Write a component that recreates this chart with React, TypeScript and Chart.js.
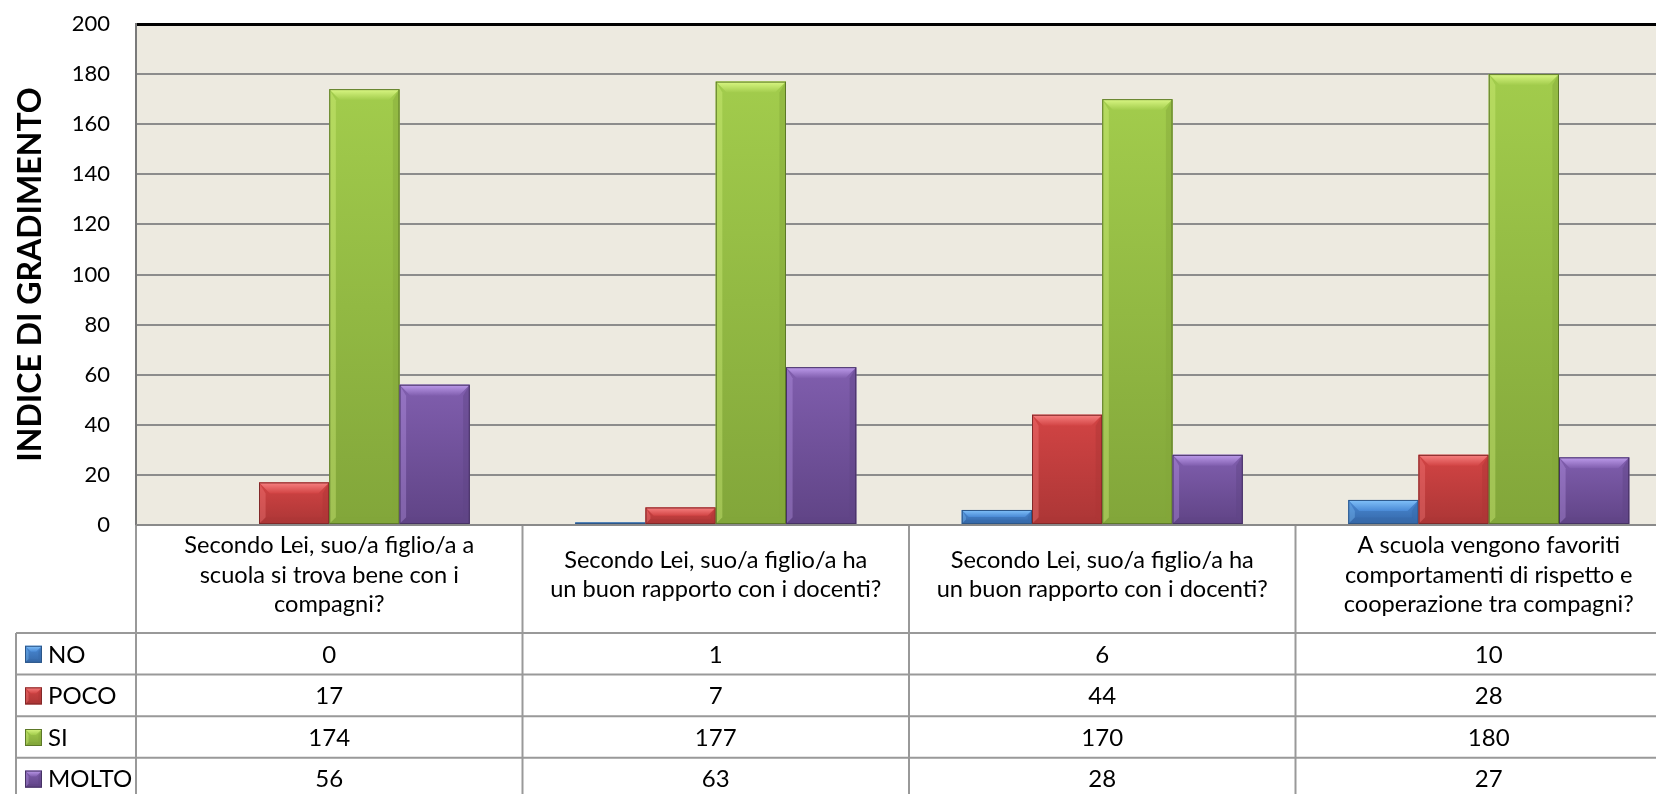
import React, { useEffect, useRef } from "react";
import { Chart, registerables } from "chart.js";

Chart.register(...registerables);

const categories: string[][] = [
  ["Secondo Lei, suo/a figlio/a a", "scuola si trova bene con i", "compagni?"],
  ["Secondo Lei, suo/a figlio/a ha", "un buon rapporto con i docenti?"],
  ["Secondo Lei, suo/a figlio/a ha", "un buon rapporto con i docenti?"],
  ["A scuola vengono favoriti", "comportamenti di rispetto e", "cooperazione tra compagni?"],
];

const seriesNames = ["NO", "POCO", "SI", "MOLTO"];
const noValues = [0, 1, 6, 10];
const pocoValues = [17, 7, 44, 28];
const siValues = [174, 177, 170, 180];
const moltoValues = [56, 63, 28, 27];

const yTicks = [0, 20, 40, 60, 80, 100, 120, 140, 160, 180, 200];

const palette = [
  { base: "#4A8AD6", light: "#82C2FA", dark: "#3568A8", border: "#2C5688" },
  { base: "#D24444", light: "#F88282", dark: "#AC3636", border: "#822828" },
  { base: "#A2CC4C", light: "#DAF784", dark: "#82A63A", border: "#5C7828" },
  { base: "#805EAE", light: "#BE9CEC", dark: "#604486", border: "#463264" },
];

const FONT = "Lato, 'Open Sans', sans-serif";
const CANVAS_W = 1700;
const CANVAS_H = 812;

const bgPlugin = {
  id: "plotBg",
  beforeDraw(chart: any) {
    const { ctx, chartArea } = chart;
    ctx.save();
    ctx.fillStyle = "#EDEAE0";
    ctx.fillRect(chartArea.left, chartArea.top, chartArea.right - chartArea.left, chartArea.bottom - chartArea.top);
    ctx.restore();
  },
};

function drawBevelRect(ctx: CanvasRenderingContext2D, left: number, top: number, right: number, bottom: number, c: any, b: number) {
  const w = right - left;
  const h = bottom - top;
  if (w <= 0 || h <= 0) return;
  const g = ctx.createLinearGradient(0, top, 0, bottom);
  g.addColorStop(0, c.base);
  g.addColorStop(1, c.dark);
  ctx.fillStyle = g;
  ctx.fillRect(left, top, w, h);
  const bb = Math.min(b, h / 2, w / 2);
  // top bevel
  ctx.beginPath();
  ctx.moveTo(left, top);
  ctx.lineTo(right, top);
  ctx.lineTo(right - bb, top + bb);
  ctx.lineTo(left + bb, top + bb);
  ctx.closePath();
  const tg = ctx.createLinearGradient(0, top, 0, top + bb);
  tg.addColorStop(0, c.light);
  tg.addColorStop(1, c.base);
  ctx.fillStyle = tg;
  ctx.fill();
  // left bevel
  ctx.beginPath();
  ctx.moveTo(left, top);
  ctx.lineTo(left + bb * 0.6, top + bb);
  ctx.lineTo(left + bb * 0.6, bottom - bb * 0.6);
  ctx.lineTo(left, bottom);
  ctx.closePath();
  ctx.globalAlpha = 0.35;
  ctx.fillStyle = c.light;
  ctx.fill();
  // right bevel
  ctx.beginPath();
  ctx.moveTo(right, top);
  ctx.lineTo(right - bb * 0.6, top + bb);
  ctx.lineTo(right - bb * 0.6, bottom - bb * 0.6);
  ctx.lineTo(right, bottom);
  ctx.closePath();
  ctx.globalAlpha = 0.45;
  ctx.fillStyle = c.dark;
  ctx.fill();
  // bottom bevel
  ctx.beginPath();
  ctx.moveTo(left, bottom);
  ctx.lineTo(left + bb * 0.6, bottom - bb * 0.6);
  ctx.lineTo(right - bb * 0.6, bottom - bb * 0.6);
  ctx.lineTo(right, bottom);
  ctx.closePath();
  ctx.globalAlpha = 0.5;
  ctx.fillStyle = c.dark;
  ctx.fill();
  ctx.globalAlpha = 1;
  ctx.strokeStyle = c.border;
  ctx.lineWidth = 1;
  ctx.strokeRect(left + 0.5, top + 0.5, w - 1, h - 1);
}

const bevelPlugin = {
  id: "bevel",
  afterDatasetsDraw(chart: any) {
    const { ctx } = chart;
    ctx.save();
    chart.data.datasets.forEach((ds: any, di: number) => {
      const meta = chart.getDatasetMeta(di);
      meta.data.forEach((el: any) => {
        const left = el.x - el.width / 2;
        const right = el.x + el.width / 2;
        const top = Math.min(el.y, el.base);
        const bottom = Math.max(el.y, el.base);
        if (bottom - top < 0.5) return;
        drawBevelRect(ctx, left, top, right, bottom, palette[di], 11);
      });
    });
    ctx.restore();
  },
};

const tablePlugin = {
  id: "dataTable",
  afterDraw(chart: any) {
    const { ctx, chartArea } = chart;
    const x = chart.scales.x;
    const n = chart.data.labels.length;
    const step = n > 1 ? x.getPixelForValue(1) - x.getPixelForValue(0) : chartArea.right - chartArea.left;
    const top = chartArea.bottom;
    const headerBottom = top + 108;
    const rowH = 41.6;
    const legendLeft = 16;
    const tableBottom = headerBottom + rowH * chart.data.datasets.length;
    ctx.save();
    ctx.strokeStyle = "#999999";
    ctx.lineWidth = 2;
    for (let r = 0; r <= chart.data.datasets.length; r++) {
      const y = headerBottom + r * rowH;
      ctx.beginPath();
      ctx.moveTo(legendLeft, y);
      ctx.lineTo(chartArea.right, y);
      ctx.stroke();
    }
    for (let i = 0; i <= n; i++) {
      const xx = x.getPixelForValue(0) - step / 2 + i * step;
      ctx.beginPath();
      ctx.moveTo(xx, top);
      ctx.lineTo(xx, tableBottom);
      ctx.stroke();
    }
    ctx.beginPath();
    ctx.moveTo(legendLeft, headerBottom);
    ctx.lineTo(legendLeft, tableBottom);
    ctx.stroke();
    ctx.strokeStyle = "#8a8a8a";
    ctx.beginPath();
    ctx.moveTo(chartArea.left, top);
    ctx.lineTo(chartArea.right, top);
    ctx.stroke();

    ctx.fillStyle = "#000";
    ctx.textAlign = "center";
    ctx.textBaseline = "middle";
    ctx.font = `23.6px ${FONT}`;
    const lineH = 29.5;
    chart.data.labels.forEach((lab: string[], i: number) => {
      const cx = x.getPixelForValue(i);
      const lines = Array.isArray(lab) ? lab : [lab];
      const cy = (top + headerBottom) / 2 - 4;
      const start = cy - ((lines.length - 1) * lineH) / 2;
      lines.forEach((ln, k) => ctx.fillText(ln, cx, start + k * lineH));
    });
    ctx.font = `24px ${FONT}`;
    chart.data.datasets.forEach((ds: any, di: number) => {
      const cy = headerBottom + di * rowH + rowH / 2;
      ds.data.forEach((v: number, i: number) => {
        ctx.fillStyle = "#000";
        ctx.textAlign = "center";
        ctx.fillText(String(v), x.getPixelForValue(i), cy + 1);
      });
      drawBevelRect(ctx, 25, cy - 8, 42, cy + 9, palette[di], 6);
      ctx.fillStyle = "#000";
      ctx.textAlign = "left";
      ctx.fillText(ds.label, 48, cy + 1);
    });
    ctx.restore();
  },
};

export default function App() {
  const ref = useRef<HTMLCanvasElement | null>(null);
  useEffect(() => {
    if (!ref.current) return;
    const allValues = [noValues, pocoValues, siValues, moltoValues];
    const chart = new Chart(ref.current, {
      type: "bar",
      data: {
        labels: categories as any,
        datasets: seriesNames.map((name, i) => ({
          label: name,
          data: allValues[i],
          backgroundColor: palette[i].base,
          borderWidth: 0,
          categoryPercentage: 0.727,
          barPercentage: 1.0,
        })),
      },
      options: {
        responsive: false,
        maintainAspectRatio: false,
        devicePixelRatio: 1,
        animation: false,
        layout: { padding: { left: 0, top: 24, right: CANVAS_W - 1682, bottom: CANVAS_H - 525 } },
        plugins: { legend: { display: false }, tooltip: { enabled: false }, title: { display: false } },
        scales: {
          x: {
            display: false,
            grid: { display: false },
          },
          y: {
            min: 0,
            max: 200,
            afterBuildTicks: (axis: any) => {
              axis.ticks = yTicks.map((v) => ({ value: v }));
            },
            afterFit: (axis: any) => {
              axis.width = 136;
            },
            ticks: {
              font: { family: FONT, size: 22 },
              color: "#000",
              padding: 0,
            },
            grid: {
              drawTicks: true,
              tickLength: 26,
              tickColor: "rgba(0,0,0,0)",
              color: (c: any) => (c.tick && c.tick.value === 200 ? "#000000" : "#8c8c8c"),
              lineWidth: (c: any) => (c.tick && c.tick.value === 200 ? 3 : 2),
            },
            border: { display: true, color: "#7a7a7a", width: 2 },
            title: {
              display: true,
              text: "INDICE DI GRADIMENTO",
              font: { family: FONT, size: 32, weight: "bold" },
              color: "#000",
              padding: { top: 11, bottom: 0 },
            },
          },
        },
      },
      plugins: [bgPlugin, bevelPlugin, tablePlugin],
    });
    return () => chart.destroy();
  }, []);
  return (
    <div style={{ position: "fixed", left: 0, top: 0, width: 1656, height: 794, overflow: "hidden", background: "#fff" }}>
      <canvas ref={ref} width={CANVAS_W} height={CANVAS_H} style={{ width: CANVAS_W, height: CANVAS_H, display: "block" }} />
    </div>
  );
}
